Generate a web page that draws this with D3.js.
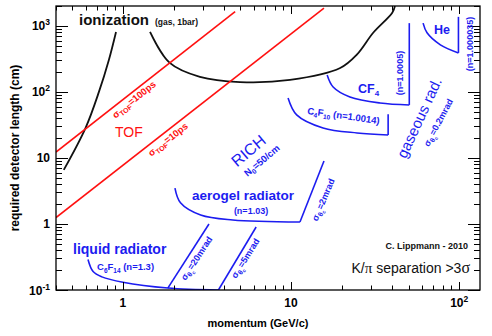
<!DOCTYPE html>
<html>
<head>
<meta charset="utf-8">
<script src="https://cdn.jsdelivr.net/npm/d3@7"></script>
<style>
  body { margin: 0; background: #fff; }
  svg { font-family: "Liberation Sans", Arial, sans-serif; }
</style>
</head>
<body>
<svg id="chart"></svg>
<script>
// momentum (GeV/c) vs required length (cm)
var ionLeft  = [[0.445, 6.6], [0.60, 28.6], [0.72, 100], [0.825, 305], [0.91, 810]];
var ionRight = [[1.45, 810], [1.90, 275], [2.87, 169], [4.97, 141], [9.86, 152], [19.6, 230], [24.7, 370], [30.8, 786], [40.0, 1580], [41.5, 2000]];
var tof100 = [[0.4, 12.3], [4.65, 1640]];
var tof10  = [[0.4, 1.25], [15.7, 1850]];

var liquidCurve  = [[0.62, 0.29], [0.665, 0.19], [0.75, 0.158], [1.0, 0.131], [1.85, 0.107], [3.7, 0.1]];
var liquid20mrad = [[1.85, 0.107], [3.25, 1.0]];
var liquid5mrad  = [[3.7, 0.1], [6.2, 0.9]];
var aeroCurve    = [[2.04, 3.5], [2.2, 2.1], [2.9, 1.37], [4.5, 1.15], [11.3, 1.07]];
var aero2mrad    = [[11.3, 1.07], [15.7, 9.0]];
var c4f10Curve   = [[9.6, 81], [10.8, 45], [15.5, 28.5], [24.7, 23.9], [37.8, 22.3]];
var c4f10Edge    = [[37.8, 22.3], [37.8, 46]];
var cf4Curve     = [[16.4, 181], [17.8, 119], [22.4, 84], [33.8, 68], [50.5, 63.5]];
var cf4Edge      = [[50.5, 63.5], [50.5, 1100]];
var heCurve      = [[61, 1100], [64.4, 786], [77.3, 517], [99, 390]];
var heEdge       = [[99, 390], [99, 1370]];

var xTickLabels = [{v: 1, b: "1", e: ""}, {v: 10, b: "10", e: ""}, {v: 100, b: "10", e: "2"}];
var yTickLabels = [{v: 0.1, b: "10", e: "-1"}, {v: 1, b: "1", e: ""}, {v: 10, b: "10", e: ""},
                   {v: 100, b: "10", e: "2"}, {v: 1000, b: "10", e: "3"}];

var W = 492, H = 336;
var padL = 56, padR = 480, padT = 6, padB = 290;
var BLUE = "#1c1cf0", RED = "#ff1010";

var svg = d3.select("#chart").attr("width", W).attr("height", H);

var x = d3.scaleLog().domain([0.4, 133]).range([padL, padR]);
var y = d3.scaleLog().domain([0.1, 2000]).range([padB, padT]);

var smooth = d3.line().x(function(d){ return x(d[0]); }).y(function(d){ return y(d[1]); }).curve(d3.curveCatmullRom.alpha(0.5));
var straight = d3.line().x(function(d){ return x(d[0]); }).y(function(d){ return y(d[1]); });

svg.append("defs").append("clipPath").attr("id", "clip")
  .append("rect").attr("x", padL).attr("y", padT).attr("width", padR - padL).attr("height", padB - padT);
var g = svg.append("g").attr("clip-path", "url(#clip)");

function draw(data, fn, color, w) {
  g.append("path").attr("d", fn(data)).attr("fill", "none")
    .attr("stroke", color).attr("stroke-width", w).attr("stroke-linejoin", "round");
}

draw(ionLeft, smooth, "#111", 1.8);
draw(ionRight, smooth, "#111", 1.8);
draw(tof100, straight, RED, 1.6);
draw(tof10, straight, RED, 1.6);
[liquidCurve, aeroCurve, c4f10Curve, cf4Curve, heCurve].forEach(function(d){ draw(d, smooth, BLUE, 1.6); });
[liquid20mrad, liquid5mrad, aero2mrad, c4f10Edge, cf4Edge, heEdge].forEach(function(d){ draw(d, straight, BLUE, 1.6); });

// frame
svg.append("rect").attr("x", padL).attr("y", padT).attr("width", padR - padL).attr("height", padB - padT)
  .attr("fill", "none").attr("stroke", "#000").attr("stroke-width", 1.3);

function isMajor(v) { return Math.abs(Math.log10(v) - Math.round(Math.log10(v))) < 1e-6; }

var ax = svg.append("g").attr("stroke", "#000").attr("stroke-width", 1);
x.ticks().forEach(function(v){
  var len = isMajor(v) ? 8 : 4.5;
  var px = Math.round(x(v)) + 0.5;
  ax.append("line").attr("x1", px).attr("x2", px).attr("y1", padB).attr("y2", padB - len);
  ax.append("line").attr("x1", px).attr("x2", px).attr("y1", padT).attr("y2", padT + len);
});
y.ticks().forEach(function(v){
  var len = isMajor(v) ? 12 : 6;
  var py = Math.round(y(v)) + 0.5;
  ax.append("line").attr("x1", padL).attr("x2", padL + len).attr("y1", py).attr("y2", py);
  ax.append("line").attr("x1", padR).attr("x2", padR - len).attr("y1", py).attr("y2", py);
});

// tick labels
xTickLabels.forEach(function(d){
  var t = svg.append("text").attr("x", x(d.v)).attr("y", 307).attr("text-anchor", "middle")
    .attr("font-size", 12).attr("font-weight", "bold").text(d.b);
  if (d.e) t.append("tspan").attr("dy", -5).attr("font-size", 8.5).text(d.e);
});
yTickLabels.forEach(function(d){
  var t = svg.append("text").attr("x", 50).attr("y", y(d.v) + 4.5).attr("text-anchor", "end")
    .attr("font-size", 12).attr("font-weight", "bold").text(d.b);
  if (d.e) t.append("tspan").attr("dy", -5).attr("font-size", 8.5).text(d.e);
});

// axis titles
svg.append("text").attr("x", 258).attr("y", 327).attr("text-anchor", "middle")
  .attr("font-size", 11).attr("font-weight", "bold").text("momentum (GeV/c)");
svg.append("text").attr("transform", "translate(19,148) rotate(-90)").attr("text-anchor", "middle")
  .attr("font-size", 12).attr("font-weight", "bold").text("required detector length (cm)");

// annotations
function label(px, py, rot, size, weight, color, anchor) {
  return svg.append("text")
    .attr("transform", "translate(" + px + "," + py + ") rotate(" + rot + ")")
    .attr("text-anchor", anchor || "middle").attr("font-size", size)
    .attr("font-weight", weight).attr("fill", color);
}
function sub(t, s, size, dy) {
  t.append("tspan").attr("dy", dy || 2.5).attr("font-size", size).text(s);
}
function back(t, s, dy) {
  t.append("tspan").attr("dy", dy).text(s);
}

label(79, 25, 0, 15, "bold", "#111", "start").text("ionization");
label(155, 25, 0, 8.5, "bold", "#111", "start").text("(gas, 1bar)");
label(115, 137, 0, 14, "normal", RED, "start").text("TOF");

var t1 = label(136, 102, -39, 9.5, "bold", RED).text("σ");
sub(t1, "TOF", 7, 2.5); back(t1, "=100ps", -2.5);
var t2 = label(170, 142, -38, 9.5, "bold", RED).text("σ");
sub(t2, "TOF", 7, 2.5); back(t2, "=10ps", -2.5);

label(252, 155, -40, 16, "normal", BLUE).text("RICH");
var n0 = label(264, 163, -40, 9.5, "bold", BLUE).text("N");
sub(n0, "0", 7, 2.5); back(n0, "=50/cm", -2.5);

label(192, 200, 0, 13.5, "bold", BLUE, "start").text("aerogel radiator");
label(251, 214, 0, 9, "bold", BLUE).text("(n=1.03)");
label(73, 254, 0, 14, "bold", BLUE, "start").text("liquid radiator");
var c6 = label(97, 270, 0, 9.5, "bold", BLUE, "start").text("C");
sub(c6, "6", 6.5, 2.5); back(c6, "F", -2.5); sub(c6, "14", 6.5, 2.5); back(c6, " (n=1.3)", -2.5);

function thetaLabel(px, py, rot, txt) {
  var t = label(px, py, rot, 9, "bold", BLUE).text("σ");
  sub(t, "θ", 7, 2.5); sub(t, "c", 5, 1.5); back(t, txt, -4);
}
thetaLabel(199, 260, -57, "=20mrad");
thetaLabel(248, 260, -58, "=5mrad");
thetaLabel(326, 201, -67, "=2mrad");

var c4 = label(343, 119, 8, 9.5, "bold", BLUE).text("C");
sub(c4, "4", 6.5, 2.5); back(c4, "F", -2.5); sub(c4, "10", 6.5, 2.5); back(c4, " (n=1.0014)", -2.5);

var cf = label(358, 93, 0, 12.5, "bold", BLUE, "start").text("CF");
sub(cf, "4", 8, 3);
label(403, 73, -90, 9, "bold", BLUE).text("(n=1.0005)");
label(442, 34, 0, 12.5, "bold", BLUE).text("He");
label(473, 44, -90, 9, "bold", BLUE).text("(n=1.000035)");

label(424, 120, -65, 15, "normal", BLUE).text("gaseous rad.");
thetaLabel(441, 124, -62, "=0.2mrad");

label(468, 249, 0, 9, "bold", "#111", "end").text("C. Lippmann - 2010");
var kp = label(470, 273, 0, 14, "normal", "#111", "end").text("K/");
kp.append("tspan").attr("font-family", "Liberation Serif").attr("font-size", 15).text("π");
kp.append("tspan").text(" separation >3");
kp.append("tspan").attr("font-family", "Liberation Serif").attr("font-size", 16).text("σ");
</script>
</body>
</html>
